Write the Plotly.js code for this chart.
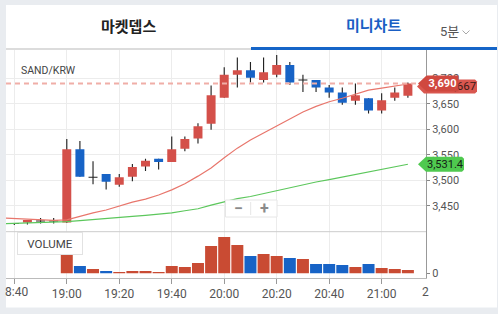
<!DOCTYPE html>
<html><head><meta charset="utf-8">
<script src="https://cdn.plot.ly/plotly-3.0.1.min.js"></script>
<style>html,body{margin:0;padding:0;background:#e9ecf0;}#chart{width:498px;height:314px;}</style>
</head><body><div id="chart"></div>
<script>
// ---- data ----
const times = ['18:40','18:45','18:50','18:55','19:00','19:05','19:10','19:15','19:20','19:25','19:30','19:35','19:40','19:45','19:50','19:55','20:00','20:05','20:10','20:15','20:20','20:25','20:30','20:35','20:40','20:45','20:50','20:55','21:00','21:05','21:10'];
const opens  = [3415,3417,3420,3420,3417,3561,3506,3512,3491,3507,3527,3542,3536,3562,3582,3611,3662,3707,3716,3697,3707,3726,3697,3697,3682,3672,3656,3661,3637,3662,3666];
const highs  = [3416,3422,3426,3426,3581,3577,3537,3512,3512,3532,3542,3542,3586,3586,3612,3686,3722,3741,3732,3741,3746,3732,3707,3697,3687,3682,3690,3661,3671,3682,3692];
const lows   = [3412,3413,3415,3415,3416,3507,3492,3482,3487,3498,3518,3521,3536,3557,3572,3599,3662,3682,3692,3692,3702,3687,3673,3673,3662,3648,3648,3631,3631,3656,3662];
const closes = [3415,3422,3420,3420,3561,3507,3506,3497,3506,3526,3538,3536,3561,3581,3606,3667,3707,3716,3701,3712,3726,3692,3697,3682,3672,3652,3667,3637,3657,3672,3690];
const volumes = [0,0,0,0,2030,730,430,230,130,230,230,130,730,630,1030,2730,3630,2830,1730,1930,1730,1530,1430,930,930,830,630,930,530,430,330];
const volDir  = ['u','u','u','u','u','d','u','d','u','u','u','u','u','u','u','u','u','u','d','u','u','d','u','d','d','d','u','d','u','u','u'];
const maTimes = ['18:35'].concat(times);
const maShort = [3426,3425,3423,3422,3421,3422,3429,3436,3441.5,3449.5,3457,3463,3471,3481,3493,3508,3524,3544,3563,3579,3593,3606,3620,3634,3645,3654,3661,3669,3677,3681,3685,3689];
const maLong  = [3414.5,3415,3416,3416.5,3417,3418.5,3420.5,3423,3425,3427,3429,3431,3433,3436,3440,3444,3451,3458,3464,3468,3474,3480,3486,3491,3496.5,3501,3506,3511,3516,3521,3527,3531.4];
const tickTimes  = ['18:40','19:00','19:20','19:40','20:00','20:20','20:40','21:00'];
const tickLabels = ['','19:00','19:20','19:40','20:00','20:20','20:40','21:00'];
const priceTicks = [3450,3500,3550,3600,3650,3700];
const lastPrice = 3690;
const maLongLast = 3531.4;
const maShortLabel = 3667;

// ---- helpers ----
const day = '2024-01-01 ';
const toDate = t => day + t + ':00';
const PL = 6, PR = 426, PT = 50, PB = 278;
const px2x = px => (px - PL) / (PR - PL);
const py2y = py => (PB - py) / (PB - PT);
const priceDomain = [py2y(231.7), 1];
const priceRange = [3398.9, 3755.7];
const volRange = [-470, 4160];
const valToPy = v => PT + (priceRange[1] - v) / (priceRange[1] - priceRange[0]) * (231.7 - PT);
const fmt = v => v.toLocaleString('en-US', {maximumFractionDigits: 1});

const RED = '#d4504a', BLUE = '#1763c6', VRED = '#c94b33', WICK = '#222222';
const FONT = 'Roboto, "Noto Sans CJK KR", sans-serif';

const X = times.map(toDate);
const wick = {
  type: 'bar', x: X, base: lows, y: highs.map((h, i) => h - lows[i]),
  width: 26000, marker: {color: WICK, line: {width: 0}},
  xaxis: 'x2', yaxis: 'y', hoverinfo: 'skip'
};
const bodies = {
  type: 'bar', x: X,
  base: opens.map((o, i) => o === closes[i] ? o - 1 : Math.min(o, closes[i])),
  y: opens.map((o, i) => o === closes[i] ? 2 : Math.abs(closes[i] - o)),
  width: 205000,
  marker: {color: opens.map((o, i) => closes[i] > o ? RED : (closes[i] < o ? BLUE : WICK)), line: {width: 0}},
  xaxis: 'x2', yaxis: 'y', hoverinfo: 'skip'
};
const maS = {type: 'scatter', mode: 'lines', x: maTimes.map(toDate), y: maShort,
  line: {color: '#e8766c', width: 1.2}, xaxis: 'x2', yaxis: 'y', hoverinfo: 'skip'};
const maL = {type: 'scatter', mode: 'lines', x: maTimes.map(toDate), y: maLong,
  line: {color: '#5cc75c', width: 1.2}, xaxis: 'x2', yaxis: 'y', hoverinfo: 'skip'};
const vol = {
  type: 'bar', x: X, y: volumes, width: 274000,
  marker: {color: volDir.map(d => d === 'u' ? VRED : BLUE), line: {width: 0}},
  xaxis: 'x', yaxis: 'y2', hoverinfo: 'skip'
};

function tagPath(tip, x0, x1, yc, h) {
  const r = 2;
  const P = (a, b) => px2x(a).toFixed(5) + ',' + py2y(b).toFixed(5);
  return 'M' + P(tip, yc) + ' L' + P(x0, yc - h) + ' L' + P(x1 - r, yc - h) + ' L' + P(x1, yc - h + r) +
         ' L' + P(x1, yc + h - r) + ' L' + P(x1 - r, yc + h) + ' L' + P(x0, yc + h) + ' Z';
}
const ycLast = valToPy(lastPrice);
const ycLong = valToPy(maLongLast);
const ycShort = ycLast + 3;

const shapes = [
  {type: 'rect', xref: 'paper', yref: 'paper', layer: 'below', x0: px2x(6), x1: px2x(497), y0: py2y(5), y1: py2y(307.5), fillcolor: '#ffffff', line: {width: 0}},
  {type: 'line', xref: 'paper', yref: 'paper', x0: px2x(6), x1: px2x(251), y0: py2y(49), y1: py2y(49), line: {color: '#d0d0d0', width: 1.5}},
  {type: 'rect', xref: 'paper', yref: 'paper', x0: px2x(251), x1: px2x(497), y0: py2y(47), y1: py2y(50), fillcolor: '#1565c8', line: {width: 0}},
  {type: 'path', xref: 'paper', yref: 'paper', path: 'M' + px2x(462.5) + ',' + py2y(30.5) + ' L' + px2x(466) + ',' + py2y(34) + ' L' + px2x(469.5) + ',' + py2y(30.5), line: {color: '#a8a8a8', width: 1}},
  {type: 'line', xref: 'paper', yref: 'paper', x0: 0, x1: 1, y0: priceDomain[0], y1: priceDomain[0], line: {color: '#cccccc', width: 1}},
  {type: 'line', xref: 'paper', yref: 'y', x0: 0, x1: 1, y0: lastPrice, y1: lastPrice, line: {color: '#f0aea7', width: 2, dash: '5px,4px'}},
  // zoom buttons box
  {type: 'rect', xref: 'paper', yref: 'paper', x0: px2x(225.5), x1: px2x(277), y0: py2y(200), y1: py2y(217), fillcolor: '#ffffff', line: {color: '#e6e6e6', width: 1}},
  {type: 'line', xref: 'paper', yref: 'paper', x0: px2x(250.7), x1: px2x(250.7), y0: py2y(202), y1: py2y(215), line: {color: '#e6e6e6', width: 1}},
  // tags
  {type: 'path', xref: 'paper', yref: 'paper', path: tagPath(417, 424, 477, ycShort, 7), fillcolor: '#d9574f', line: {width: 0}},
  {type: 'path', xref: 'paper', yref: 'paper', path: tagPath(418, 426, 457, ycLast, 7.5), fillcolor: '#d0483f', line: {width: 0}},
  {type: 'path', xref: 'paper', yref: 'paper', path: tagPath(418, 426, 464, ycLong, 7.5), fillcolor: '#4fc94f', line: {width: 0}}
];

const ann = (text, px, py, opt) => Object.assign({text: text, x: px2x(px), y: py2y(py), xref: 'paper', yref: 'paper', showarrow: false, xanchor: 'center', yanchor: 'middle', font: {family: FONT, size: 11, color: '#555'}}, opt || {});
const annotations = [
  ann('마켓뎁스', 128, 25, {font: {family: '"Noto Sans CJK KR", sans-serif', size: 15, color: '#222', weight: 700}}),
  ann('미니차트', 373, 24, {font: {family: '"Noto Sans CJK KR", sans-serif', size: 15, color: '#1a5fc4', weight: 700}}),
  ann('5분', 449, 32, {font: {family: FONT, size: 13, color: '#555'}}),
  ann('SAND/KRW', 19, 70, {xanchor: 'left', font: {family: FONT, size: 10.5, color: '#444'}}),
  ann('VOLUME', 49.5, 243.7, {width: 64, height: 21, bgcolor: '#ffffff', bordercolor: '#e2e2e2', borderwidth: 1, borderpad: 0, font: {family: FONT, size: 11.5, color: '#444'}}),
  ann('−', 238, 208.3, {font: {family: FONT, size: 16, color: '#8a8a8a', weight: 700}}),
  ann('+', 264, 208.3, {font: {family: FONT, size: 16, color: '#8a8a8a', weight: 700}}),
  ann('8:40', 29.5, 292, {xanchor: 'right', font: {family: FONT, size: 12, color: '#555'}}),
  ann('2', 420, 292, {xanchor: 'left', font: {family: FONT, size: 12, color: '#555'}}),
  ann(fmt(maShortLabel), 478, ycShort, {xanchor: 'right', font: {family: FONT, size: 11.5, color: '#3a1a16'}}),
  ann(fmt(lastPrice), 426, ycLast, {xanchor: 'left', width: 31, height: 15, borderpad: 0, bgcolor: '#d0483f', font: {family: FONT, size: 11, color: '#ffffff', weight: 700}}),
  ann(fmt(maLongLast), 445, ycLong, {font: {family: FONT, size: 11, color: '#152015'}})
];

const xRange = [day + '18:36:50', day + '21:16:54'];
const layout = {
  width: 498, height: 314,
  margin: {l: PL, r: 498 - PR, t: PT, b: 314 - PB, pad: 0},
  paper_bgcolor: '#e9ecf0', plot_bgcolor: 'rgba(0,0,0,0)',
  showlegend: false, barmode: 'overlay', dragmode: false,
  font: {family: FONT, size: 11, color: '#555'},
  xaxis: {type: 'date', domain: [0, 1], anchor: 'y2', range: xRange,
    tickvals: tickTimes.map(toDate), ticktext: tickLabels,
    showgrid: true, gridcolor: '#ececec', gridwidth: 1,
    showline: true, linecolor: '#bbbbbb', linewidth: 1,
    ticks: 'outside', ticklen: 5, tickcolor: '#999999',
    tickfont: {family: FONT, size: 12, color: '#555'}, zeroline: false, fixedrange: true},
  xaxis2: {type: 'date', matches: 'x', anchor: 'y', range: xRange,
    tickvals: tickTimes.map(toDate), showticklabels: false, ticks: '',
    showgrid: true, gridcolor: '#ececec', gridwidth: 1, showline: false, zeroline: false, fixedrange: true},
  yaxis: {domain: priceDomain, anchor: 'x2', side: 'right', range: priceRange,
    tickvals: priceTicks, tickformat: ',d',
    showgrid: true, gridcolor: '#ececec', gridwidth: 1,
    showline: true, linecolor: '#999999', linewidth: 1,
    ticks: 'outside', ticklen: 3, tickcolor: '#888888',
    tickfont: {family: FONT, size: 11, color: '#555'}, zeroline: false, fixedrange: true},
  yaxis2: {domain: [0, priceDomain[0]], anchor: 'x', side: 'right', range: volRange,
    tickvals: [0], ticktext: ['0'], showgrid: false,
    showline: true, linecolor: '#999999', linewidth: 1,
    ticks: 'outside', ticklen: 3, tickcolor: '#888888',
    tickfont: {family: FONT, size: 11, color: '#555'}, zeroline: false, fixedrange: true},
  shapes: shapes,
  annotations: annotations
};

Plotly.newPlot('chart', [vol, wick, bodies, maS, maL], layout, {staticPlot: true, displayModeBar: false});
</script>
</body></html>
